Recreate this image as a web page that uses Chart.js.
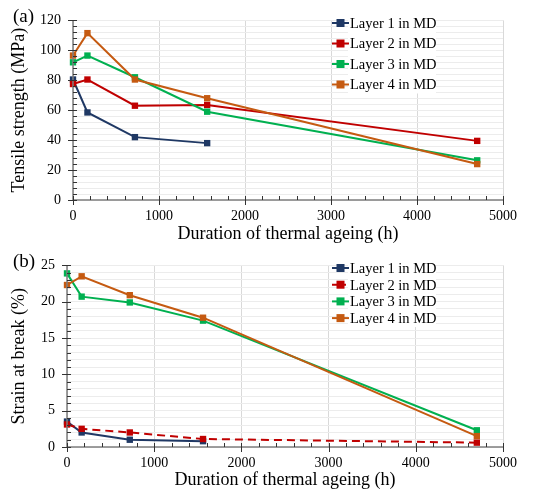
<!DOCTYPE html>
<html>
<head>
<meta charset="utf-8">
<script src="https://cdn.jsdelivr.net/npm/chart.js@4/dist/chart.umd.min.js"></script>
<style>
  body { margin: 0; background: #fff; }
  .panel { position: absolute; left: 0; width: 541px; }
  .tag { position: absolute; left: 13px; font: 19px "Liberation Serif", serif; color: #000; }
</style>
</head>
<body>
<div class="panel" style="top:0;height:245px"><canvas id="chart-a"></canvas></div>
<div class="panel" style="top:245px;height:246px"><canvas id="chart-b"></canvas></div>
<div class="tag" style="top:5px">(a)</div>
<div class="tag" style="top:250px">(b)</div>
<script>
// ageing durations (h)
const hours = [0, 168, 720, 1560, 4700];
const labels = ['Layer 1 in MD', 'Layer 2 in MD', 'Layer 3 in MD', 'Layer 4 in MD'];
const colors = ['#1f3864', '#c00000', '#00b050', '#c55a11'];

// (a) tensile strength (MPa)
const tensile1 = [80.5, 58.5, 42, 38];
const tensile2 = [77.5, 80.5, 63, 63.5, 39.5];
const tensile3 = [92, 96.5, 82, 59, 26.5];
const tensile4 = [96.5, 111.5, 80.5, 68, 24];

// (b) strain at break (%)
const strain1 = [3.5, 2.0, 1.0, 0.8];
const strain2 = [3.1, 2.5, 2.0, 1.1, 0.6];
const strain3 = [23.9, 20.7, 19.9, 17.4, 2.3];
const strain4 = [22.3, 23.5, 20.9, 17.8, 1.5];

const serif = '"Liberation Serif", "Times New Roman", serif';

// axis ticks: major ones cross the axis, minor ones point inward
const tickMarks = {
    id: 'tickMarks',
    afterDatasetsDraw(chart, args, opts) {
        const ctx = chart.ctx;
        const xs = chart.scales.x, ys = chart.scales.y;
        const a = chart.chartArea;
        ctx.save();
        ctx.strokeStyle = '#7f7f7f';
        ctx.lineWidth = 1.5;
        ctx.beginPath();
        ctx.moveTo(a.left, a.top);
        ctx.lineTo(a.left, a.bottom);
        ctx.lineTo(a.right, a.bottom);
        ctx.stroke();
        ctx.strokeStyle = '#333';
        ctx.lineWidth = 1;
        ctx.beginPath();
        xs.ticks.forEach(t => {
            const px = Math.round(xs.getPixelForValue(t.value)) + 0.5;
            const major = t.value % 1000 === 0;
            ctx.moveTo(px, a.bottom - 4);
            ctx.lineTo(px, a.bottom + (major ? 5 : 0));
        });
        ys.ticks.forEach(t => {
            const py = Math.round(ys.getPixelForValue(t.value)) + 0.5;
            const major = t.value % opts.yMajor === 0;
            ctx.moveTo(a.left - (major ? 5 : 0), py);
            ctx.lineTo(a.left + 4, py);
        });
        ctx.stroke();
        ctx.restore();
    }
};

// legend drawn inside the plot area
const innerLegend = {
    id: 'innerLegend',
    afterDraw(chart, args, opts) {
        const ctx = chart.ctx;
        ctx.save();
        ctx.fillStyle = '#fff';
        ctx.fillRect(opts.x + 16, opts.y - 9, 88, opts.gap * 3 + 18);
        ctx.font = '14.5px ' + serif;
        ctx.textBaseline = 'middle';
        chart.data.datasets.forEach((ds, i) => {
            const y = opts.y + i * opts.gap;
            ctx.strokeStyle = ds.borderColor;
            ctx.lineWidth = 2;
            ctx.setLineDash(ds.borderDash && ds.borderDash.length ? [5, 4] : []);
            ctx.beginPath();
            ctx.moveTo(opts.x, y);
            ctx.lineTo(opts.x + 17, y);
            ctx.stroke();
            ctx.setLineDash([]);
            ctx.fillStyle = ds.borderColor;
            ctx.fillRect(opts.x + 4.5, y - 4, 8, 8);
            ctx.fillStyle = '#000';
            ctx.fillText(ds.label, opts.x + 18, y + 1);
        });
        ctx.restore();
    }
};

function makeSeries(values, i, dashed) {
    return {
        label: labels[i],
        data: values.map((v, k) => ({ x: hours[k], y: v })),
        borderColor: colors[i],
        backgroundColor: colors[i],
        borderWidth: 2,
        borderDash: dashed ? [8, 5] : [],
        pointStyle: 'rect',
        pointRadius: 4.5,
        pointBorderWidth: 0,
        order: 4 - i,
        clip: false,
        tension: 0
    };
}

function makeChart(id, series, cfg) {
    return new Chart(document.getElementById(id), {
        type: 'line',
        data: { datasets: series },
        options: {
            responsive: true,
            maintainAspectRatio: false,
            animation: false,
            layout: { padding: { top: cfg.top, right: 38, left: 0, bottom: 0 } },
            plugins: {
                legend: { display: false },
                tooltip: { enabled: false },
                tickMarks: { yMajor: cfg.yMajor },
                innerLegend: cfg.legend
            },
            scales: {
                x: {
                    type: 'linear',
                    min: 0,
                    max: 5000,
                    afterFit: s => { s.height = cfg.xHeight; },
                    ticks: {
                        stepSize: 200,
                        autoSkip: false,
                        maxRotation: 0,
                        padding: 8,
                        color: '#000',
                        font: { family: serif, size: 14 },
                        callback: v => (v % 1000 === 0 ? v : '')
                    },
                    grid: {
                        drawTicks: false,
                        color: c => (c.tick && c.tick.value % 1000 === 0 ? '#d9d9d9' : 'rgba(0,0,0,0)')
                    },
                    border: { display: false },
                    title: {
                        display: true,
                        text: 'Duration of thermal ageing (h)',
                        color: '#000',
                        font: { family: serif, size: 18 },
                        padding: { top: 3, bottom: 0 }
                    }
                },
                y: {
                    min: 0,
                    max: cfg.yMax,
                    afterFit: s => { s.width = cfg.yWidth; },
                    ticks: {
                        stepSize: cfg.yStep,
                        autoSkip: false,
                        padding: 12,
                        color: '#000',
                        font: { family: serif, size: 14 },
                        callback: v => (v % cfg.yMajor === 0 ? v : '')
                    },
                    grid: { drawTicks: false, color: '#ececec' },
                    border: { display: false },
                    title: {
                        display: true,
                        text: cfg.yTitle,
                        color: '#000',
                        font: { family: serif, size: 18 },
                        padding: { top: 8, bottom: 0 }
                    }
                }
            }
        },
        plugins: [tickMarks, innerLegend]
    });
}

makeChart('chart-a', [
    makeSeries(tensile1, 0),
    makeSeries(tensile2, 1),
    makeSeries(tensile3, 2),
    makeSeries(tensile4, 3)
], {
    top: 14, xHeight: 45, yWidth: 73, yMax: 120, yStep: 4, yMajor: 20,
    yTitle: 'Tensile strength (MPa)',
    legend: { x: 332, y: 23, gap: 20.5 }
});

makeChart('chart-b', [
    makeSeries(strain1, 0),
    makeSeries(strain2, 1, true),
    makeSeries(strain3, 2),
    makeSeries(strain4, 3)
], {
    top: 13, xHeight: 44, yWidth: 67, yMax: 25, yStep: 1, yMajor: 5,
    yTitle: 'Strain at break (%)',
    legend: { x: 332, y: 23, gap: 16.7 }
});
</script>
</body>
</html>
